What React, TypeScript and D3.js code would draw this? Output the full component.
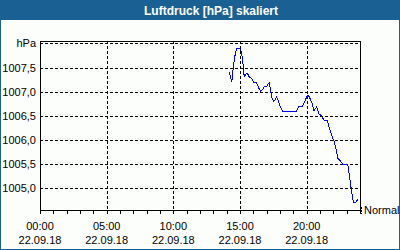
import React from "react";
import * as d3 from "d3";

const title = "Luftdruck [hPa] skaliert";
const unitLabel = "hPa";
const legendLabel = "Normal";
const dateLabel = "22.09.18";
const xTickHours = [0, 5, 10, 15, 20];
const yTickValues = [1005.0, 1005.5, 1006.0, 1006.5, 1007.0, 1007.5];
const yTopGrid = 1008.0;

const times = [
  "14:12", "14:23", "14:30", "14:36", "14:45", "15:00", "15:06", "15:12", "15:19", "15:32",
  "15:41", "15:53", "16:00", "16:15", "16:22", "16:33", "16:42", "16:49", "17:00", "17:11",
  "17:18", "17:25", "17:33", "17:45", "17:52", "18:00", "18:12", "19:15", "19:24", "19:40",
  "19:51", "20:00", "20:07", "20:15", "20:24", "20:33", "20:45", "20:54", "21:08", "21:18",
  "21:33", "21:42", "21:53", "22:04", "22:12", "22:20", "22:30", "22:42", "23:05", "23:11",
  "23:18", "23:25", "23:30", "23:42", "23:52",
];
const pressure = [
  1007.40, 1007.20, 1007.51, 1007.72, 1007.89, 1007.89, 1007.82, 1007.65, 1007.31, 1007.39,
  1007.31, 1007.27, 1007.20, 1007.18, 1007.10, 1007.00, 1007.05, 1007.11, 1007.11, 1007.19,
  1007.02, 1006.84, 1006.80, 1006.89, 1006.82, 1006.70, 1006.60, 1006.60, 1006.69, 1006.70,
  1006.79, 1006.89, 1006.93, 1006.86, 1006.77, 1006.60, 1006.69, 1006.55, 1006.49, 1006.41,
  1006.40, 1006.24, 1006.10, 1005.96, 1005.82, 1005.62, 1005.58, 1005.50, 1005.50, 1005.31,
  1005.06, 1004.86, 1004.71, 1004.71, 1004.79,
];

const W = 400;
const H = 250;
const L = 40, R = 360, T = 41, B = 210;
const frameColor = "#1b6093";
const font = "'Liberation Sans', Arial, sans-serif";

const toHours = (s: string) => {
  const [h, m] = s.split(":").map(Number);
  return h + m / 60;
};
const fmtTime = (h: number) => `${String(h).padStart(2, "0")}:00`;
const fmtVal = (v: number) => v.toFixed(1).replace(".", ",");

export default function App() {
  const x = d3.scaleLinear().domain([0, 24]).range([L, R]);
  const y = d3.scaleLinear().domain([1004.55, 1008.05]).range([B, T]);
  const px = (v: number) => Math.round(v) + 0.5;

  const data = times.map((t, i) => ({ h: toHours(t), p: pressure[i] }));
  const line = d3
    .line<{ h: number; p: number }>()
    .x((d) => x(d.h))
    .y((d) => y(d.p));

  const hourTicks = d3.range(0, 25);
  const gridY = [...yTickValues, yTopGrid];

  return (
    <svg
      width={W}
      height={H}
      style={{ position: "absolute", left: 0, top: 0, display: "block" }}
      fontFamily={font}
    >
      <rect x={0} y={0} width={W} height={H} fill="#fcfefc" />
      <rect x={0.5} y={0.5} width={W - 1} height={H - 1} fill="none" stroke={frameColor} />
      <rect x={0} y={0} width={W} height={20} fill={frameColor} />
      <text x={211} y={15} textAnchor="middle" fill="#fff" fontWeight="bold" fontSize={12}>
        {title}
      </text>

      {/* grid */}
      <g stroke="#000" strokeDasharray="3,2" shapeRendering="crispEdges">
        {gridY.map((v) => (
          <line key={"gy" + v} x1={L} x2={R} y1={px(y(v))} y2={px(y(v))} />
        ))}
        {xTickHours.filter((h) => h > 0).map((h) => (
          <line key={"gx" + h} x1={px(x(h))} x2={px(x(h))} y1={T} y2={B} />
        ))}
      </g>

      {/* frame */}
      <g stroke="#000" fill="none" shapeRendering="crispEdges">
        <line x1={L} x2={R + 1} y1={T + 0.5} y2={T + 0.5} />
        <line x1={R + 0.5} x2={R + 0.5} y1={T} y2={B} />
        <line x1={L + 0.5} x2={L + 0.5} y1={T} y2={B + 3} />
        <line x1={L} x2={R + 1} y1={B + 0.5} y2={B + 0.5} />
        {hourTicks.map((h) => (
          <line key={"t" + h} x1={px(x(h))} x2={px(x(h))} y1={B} y2={B + 4} />
        ))}
      </g>

      {/* data */}
      <path
        d={line(data) || ""}
        fill="none"
        stroke="#0000ff"
        strokeWidth={1}
        shapeRendering="crispEdges"
      />

      {/* y labels */}
      <g fontSize={11} fill="#000" textAnchor="end">
        {yTickValues.map((v) => (
          <text key={"yl" + v} x={36} y={Math.round(y(v)) + 4}>
            {fmtVal(v)}
          </text>
        ))}
        <text x={36} y={Math.round(y(yTopGrid)) + 4}>{unitLabel}</text>
      </g>

      {/* x labels */}
      <g fontSize={11} fill="#000" textAnchor="middle">
        {xTickHours.map((h) => (
          <g key={"xl" + h}>
            <text x={x(h)} y={230}>{fmtTime(h)}</text>
            <text x={x(h)} y={244}>{dateLabel}</text>
          </g>
        ))}
      </g>

      {/* legend marker */}
      <line
        x1={R + 1.5}
        x2={R + 1.5}
        y1={B - 3}
        y2={B + 4}
        stroke="#000"
        strokeDasharray="2,1"
        shapeRendering="crispEdges"
      />
      <text x={364} y={214} fontSize={11} fill="#000">
        {legendLabel}
      </text>
    </svg>
  );
}
